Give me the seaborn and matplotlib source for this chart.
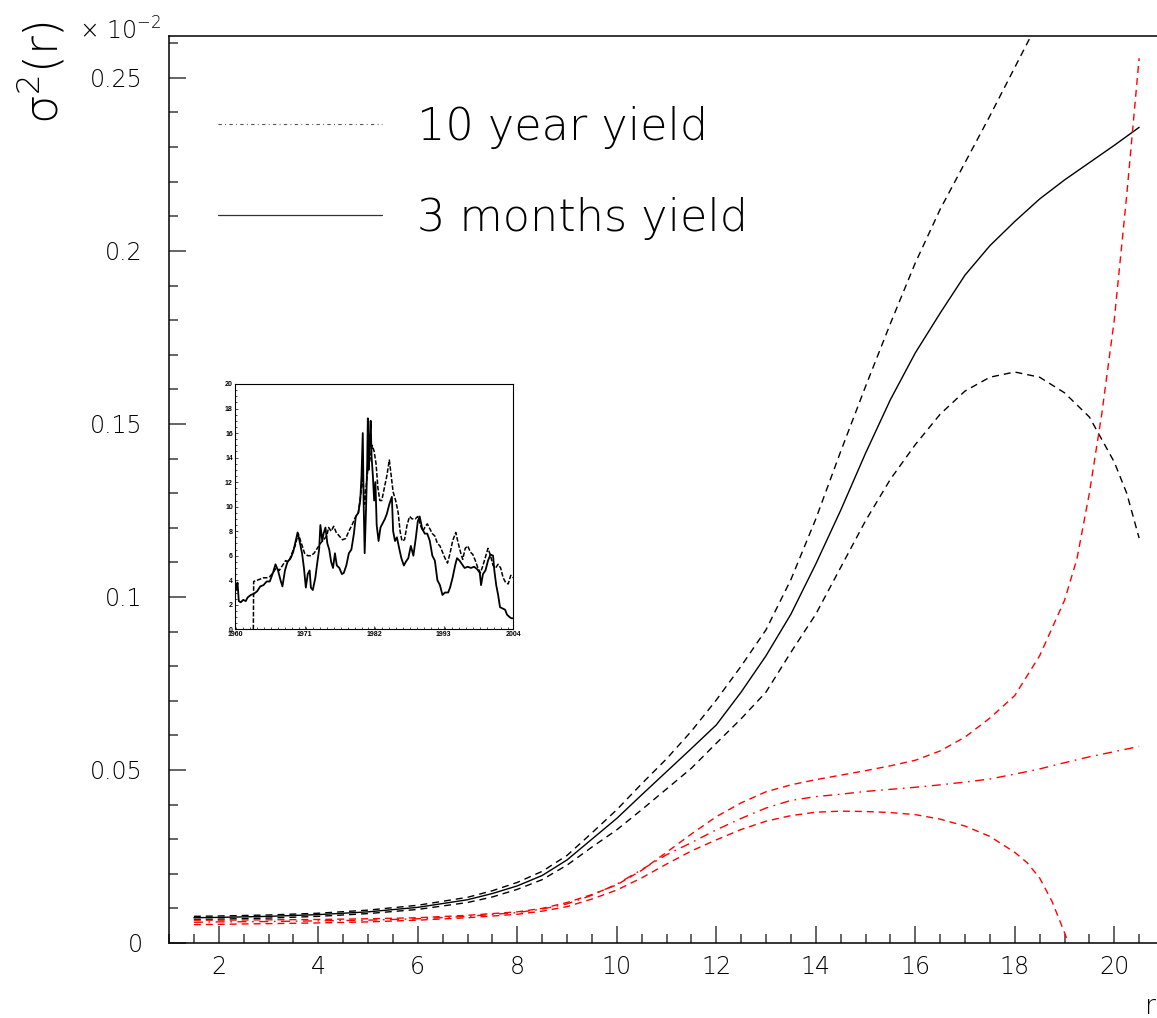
import numpy as np
import pandas as pd
import matplotlib
matplotlib.use("Agg")
import matplotlib.pyplot as plt
import seaborn as sns
from matplotlib.lines import Line2D
from matplotlib.ticker import MultipleLocator

# ---------------- main panel data (values in units of 1e-2) ----------------
r_solid = [1.5, 2, 3, 4, 5, 6, 7, 7.5, 8, 8.5, 9, 9.5, 10, 10.5, 11, 11.5, 12, 12.5, 13, 13.5,
           14, 14.5, 15, 15.5, 16, 16.5, 17, 17.5, 18, 18.5, 19, 19.5, 20, 20.5]
s_solid = [0.0073, 0.0074, 0.0077, 0.0082, 0.0090, 0.0103, 0.0125, 0.0143, 0.0165, 0.0195, 0.0240,
           0.0300, 0.0360, 0.0428, 0.0495, 0.0562, 0.0630, 0.0725, 0.0830, 0.0950, 0.1095, 0.1250,
           0.1415, 0.1570, 0.1705, 0.1820, 0.1930, 0.2015, 0.2085, 0.2150, 0.2205, 0.2255, 0.2305, 0.2357]

r_up = [1.5, 2, 3, 4, 5, 6, 7, 7.5, 8, 8.5, 9, 9.5, 10, 10.5, 11, 11.5, 12, 12.5, 13, 13.5,
        14, 14.5, 15, 15.5, 16, 16.5, 17, 17.5, 18, 18.5]
s_up = [0.0077, 0.0078, 0.0081, 0.0086, 0.0095, 0.0109, 0.0132, 0.0151, 0.0175, 0.0207, 0.0253,
        0.0318, 0.0385, 0.0460, 0.0532, 0.0612, 0.0702, 0.0800, 0.0905, 0.1050, 0.1225, 0.1420,
        0.1608, 0.1790, 0.1965, 0.2120, 0.2255, 0.2390, 0.2530, 0.2670]

r_lo = [1.5, 2, 3, 4, 5, 6, 7, 7.5, 8, 8.5, 9, 9.5, 10, 10.5, 11, 11.5, 12, 12.5, 13, 13.5,
        14, 14.5, 15, 15.5, 16, 16.5, 17, 17.5, 18, 18.5, 19, 19.5, 20, 20.25, 20.5]
s_lo = [0.0068, 0.0069, 0.0072, 0.0077, 0.0085, 0.0097, 0.0117, 0.0133, 0.0155, 0.0183, 0.0225,
        0.0277, 0.0327, 0.0385, 0.0445, 0.0505, 0.0577, 0.0648, 0.0725, 0.0840, 0.0950, 0.1085,
        0.1220, 0.1340, 0.1440, 0.1528, 0.1595, 0.1635, 0.1650, 0.1635, 0.1590, 0.1520, 0.1390,
        0.1300, 0.1170]

r_red_up = [1.5, 2, 3, 4, 5, 6, 7, 8, 8.5, 9, 9.5, 10, 10.5, 11, 11.5, 12, 12.5, 13, 13.5, 14,
            14.5, 15, 15.5, 16, 16.5, 17, 17.5, 18, 18.5, 19, 19.25, 19.5, 19.75, 20, 20.25, 20.5]
s_red_up = [0.0066, 0.0066, 0.0067, 0.0068, 0.0070, 0.0073, 0.0080, 0.0090, 0.0100, 0.0117, 0.0140,
            0.0168, 0.0210, 0.0262, 0.0315, 0.0365, 0.0405, 0.0437, 0.0457, 0.0472, 0.0485, 0.0498,
            0.0512, 0.0528, 0.0555, 0.0595, 0.0650, 0.0715, 0.0830, 0.0990, 0.1110, 0.1300, 0.1530,
            0.1800, 0.2160, 0.2557]

r_red_mid = [1.5, 2, 3, 4, 5, 6, 7, 8, 8.5, 9, 9.5, 10, 10.5, 11, 11.5, 12, 12.5, 13, 13.5, 14,
             14.5, 15, 15.5, 16, 16.5, 17, 17.5, 18, 18.5, 19, 19.5, 20, 20.5]
s_red_mid = [0.0060, 0.0061, 0.0062, 0.0064, 0.0066, 0.0070, 0.0077, 0.0088, 0.0098, 0.0113, 0.0138,
             0.0170, 0.0212, 0.0255, 0.0290, 0.0327, 0.0360, 0.0390, 0.0412, 0.0423, 0.0430, 0.0438,
             0.0444, 0.0450, 0.0457, 0.0465, 0.0474, 0.0488, 0.0503, 0.0521, 0.0538, 0.0553, 0.0568]

r_red_lo = [1.5, 2, 3, 4, 5, 6, 7, 8, 8.5, 9, 9.5, 10, 10.5, 11, 11.5, 12, 12.5, 13, 13.5, 14,
            14.5, 15, 15.5, 16, 16.5, 17, 17.5, 18, 18.25, 18.5, 18.75, 19, 19.08]
s_red_lo = [0.0053, 0.0054, 0.0056, 0.0058, 0.0061, 0.0066, 0.0073, 0.0083, 0.0092, 0.0105, 0.0127,
            0.0153, 0.0188, 0.0228, 0.0266, 0.0298, 0.0328, 0.0352, 0.0368, 0.0378, 0.0381, 0.0380,
            0.0377, 0.0371, 0.0358, 0.0338, 0.0308, 0.0262, 0.0232, 0.0188, 0.0120, 0.0030, 0.0]

x_major = [2, 4, 6, 8, 10, 12, 14, 16, 18, 20]
x_labels = ["2", "4", "6", "8", "10", "12", "14", "16", "18", "20"]
y_major = [0, 0.05, 0.10, 0.15, 0.20, 0.25]
y_labels = ["0", "0.05", "0.1", "0.15", "0.2", "0.25"]
legend_labels = ["10 year yield", "3 months yield"]

# ---------------- inset data: yields (%) vs year ----------------
yr_3m = [1960.0, 1960.2, 1960.4, 1960.6, 1960.9, 1961.3, 1961.7, 1962.0, 1962.5, 1963.0, 1963.5,
         1964.0, 1964.5, 1965.0, 1965.5, 1966.0, 1966.4, 1966.8, 1967.2, 1967.5, 1967.9, 1968.3,
         1968.8, 1969.2, 1969.6, 1969.9, 1970.2, 1970.6, 1970.9, 1971.2, 1971.5, 1971.8, 1972.0,
         1972.3, 1972.7, 1973.0, 1973.3, 1973.5, 1973.8, 1974.0, 1974.3, 1974.6, 1974.9, 1975.2,
         1975.5, 1975.8, 1976.1, 1976.5, 1976.9, 1977.2, 1977.6, 1978.0, 1978.4, 1978.8, 1979.1,
         1979.5, 1979.8, 1980.0, 1980.2, 1980.35, 1980.5, 1980.7, 1980.9, 1981.0, 1981.15, 1981.3,
         1981.45, 1981.6, 1981.8, 1982.0, 1982.2, 1982.4, 1982.7, 1983.0, 1983.3, 1983.7, 1984.0,
         1984.4, 1984.8, 1985.0, 1985.3, 1985.6, 1986.0, 1986.3, 1986.7, 1987.0, 1987.4, 1987.8,
         1988.2, 1988.6, 1988.9, 1989.2, 1989.6, 1990.0, 1990.4, 1990.8, 1991.2, 1991.6, 1992.0,
         1992.4, 1992.8, 1993.2, 1993.7, 1994.0, 1994.4, 1994.8, 1995.1, 1995.5, 1995.9, 1996.3,
         1996.8, 1997.3, 1997.8, 1998.3, 1998.7, 1998.9, 1999.2, 1999.6, 2000.0, 2000.4, 2000.8,
         2001.0, 2001.3, 2001.6, 2001.9, 2002.3, 2002.7, 2003.0, 2003.4, 2003.7, 2004.0]
val_3m = [4.0, 3.2, 3.8, 2.3, 2.2, 2.4, 2.3, 2.6, 2.8, 2.9, 3.1,
          3.5, 3.6, 3.9, 3.9, 4.6, 5.3, 4.8, 4.0, 3.5, 4.8, 5.5,
          5.8, 6.3, 7.2, 7.9, 7.2, 6.2, 5.0, 3.4, 4.5, 4.8, 3.4,
          3.2, 4.2, 5.4, 6.5, 8.5, 7.2, 7.8, 8.3, 7.0, 6.5, 5.5,
          5.0, 6.2, 5.2, 5.0, 4.5, 4.6, 5.2, 6.2, 6.5, 7.8, 9.2,
          9.5, 10.5, 12.5, 16.0, 10.0, 6.2, 9.5, 13.5, 17.2, 13.0, 15.5,
          17.0, 14.0, 12.5, 10.5, 12.0, 8.5, 7.2, 8.3, 8.6, 9.0, 9.4,
          10.2, 10.8, 8.0, 7.2, 7.5, 6.5, 5.8, 5.2, 5.5, 5.8, 6.8,
          6.0, 7.5, 8.8, 9.2, 8.2, 7.8, 7.8, 7.2, 6.0, 5.6, 4.0,
          3.6, 2.8, 3.0, 3.0, 3.4, 4.2, 5.2, 5.8, 5.6, 5.3, 5.0,
          5.1, 5.0, 5.1, 4.9, 4.6, 3.6, 4.5, 4.8, 5.6, 6.1, 6.0,
          4.8, 3.6, 2.8, 1.8, 1.7, 1.6, 1.2, 1.0, 0.9, 0.9]

yr_10y = [1962.9, 1962.95, 1963.5, 1964.0, 1964.5, 1965.0, 1965.5, 1966.0, 1966.5, 1967.0, 1967.5,
          1968.0, 1968.5, 1969.0, 1969.5, 1970.0, 1970.5, 1971.0, 1971.5, 1972.0, 1972.5, 1973.0,
          1973.5, 1974.0, 1974.5, 1974.8, 1975.2, 1975.6, 1976.0, 1976.5, 1977.0, 1977.5, 1978.0,
          1978.5, 1979.0, 1979.5, 1980.0, 1980.2, 1980.5, 1980.8, 1981.0, 1981.4, 1981.7, 1982.0,
          1982.3, 1982.6, 1982.9, 1983.2, 1983.6, 1984.0, 1984.4, 1984.7, 1985.0, 1985.4, 1985.8,
          1986.1, 1986.4, 1986.8, 1987.2, 1987.6, 1988.0, 1988.5, 1988.9, 1989.3, 1989.7, 1990.0,
          1990.4, 1990.8, 1991.2, 1991.6, 1992.0, 1992.4, 1992.8, 1993.2, 1993.6, 1994.0, 1994.4,
          1994.9, 1995.3, 1995.7, 1996.0, 1996.4, 1996.8, 1997.2, 1997.6, 1998.0, 1998.4, 1998.8,
          1999.2, 1999.6, 2000.0, 2000.4, 2000.8, 2001.2, 2001.6, 2002.0, 2002.4, 2002.8, 2003.2,
          2003.6, 2004.0]
val_10y = [0.0, 3.9, 4.0, 4.1, 4.2, 4.2, 4.3, 4.6, 5.0, 4.8, 5.2,
           5.6, 5.5, 6.2, 6.8, 7.8, 7.0, 6.2, 6.0, 6.0, 6.2, 6.6,
           7.0, 7.3, 7.6, 8.3, 8.0, 8.4, 7.9, 7.6, 7.3, 7.4, 8.0,
           8.5, 9.1, 9.5, 11.5, 12.5, 10.2, 12.0, 13.0, 14.0, 15.0, 14.5,
           13.5, 11.5, 10.5, 10.5, 11.5, 12.5, 13.8, 12.5, 11.2, 10.5, 9.5,
           8.0, 7.2, 7.3, 8.5, 9.2, 9.0, 9.0, 9.2, 8.5, 8.0, 8.3,
           8.6, 8.2, 7.8, 7.6, 7.0, 6.8, 6.3, 5.8, 5.4, 6.2, 7.2,
           7.9, 7.0, 6.2, 5.7, 6.6, 6.8, 6.3, 6.1, 5.6, 5.0, 4.6,
           5.2, 5.9, 6.6, 6.0, 5.2, 5.0, 5.3, 5.0, 4.2, 3.8, 3.7,
           4.4, 4.2]
inset_xticks = [1960, 1971, 1982, 1993, 2004]
inset_yticks = [0, 2, 4, 6, 8, 10, 12, 14, 16, 18, 20]

# ---------------- styling ----------------
sns.set_theme(style="ticks")
FONT = ["DejaVu Sans", "Noto Sans"]
plt.rcParams['font.family'] = FONT
plt.rcParams['font.weight'] = 200
plt.rcParams['mathtext.default'] = 'regular'
plt.rcParams['text.color'] = 'black'
plt.rcParams['xtick.direction'] = 'in'
plt.rcParams['ytick.direction'] = 'in'

W, H = 1157, 1018
fig = plt.figure(figsize=(W / 100, H / 100), dpi=100)
ax = fig.add_axes([169 / W, 75 / H, 995 / W, 907 / H])

DASH = (0, (5.0, 3.6))
DASHDOT = (0, (6.5, 4.0, 1.2, 4.0))

def curve(x, y, color, ls, lw=1.0):
    sns.lineplot(x=x, y=y, ax=ax, color=color, linestyle=ls, linewidth=lw,
                 sort=False, errorbar=None, estimator=None)

curve(r_up, s_up, "black", DASH)
curve(r_lo, s_lo, "black", DASH)
curve(r_solid, s_solid, "black", "-")
curve(r_red_up, s_red_up, "#ff0000", DASH)
curve(r_red_mid, s_red_mid, "#ff0000", DASHDOT)
curve(r_red_lo, s_red_lo, "#ff0000", DASH)

ax.set_xlim(1.0, 21.0)
ax.set_ylim(0.0, 0.2621)
ax.set_xticks(x_major, x_labels)
ax.set_yticks(y_major, y_labels)
ax.xaxis.set_minor_locator(MultipleLocator(0.5))
ax.yaxis.set_minor_locator(MultipleLocator(0.01))
ax.tick_params(axis="x", which="both", bottom=True, top=False, direction="in",
               color="#3a3a3a", width=1.1, labelsize=17, labelcolor="black", pad=9)
ax.tick_params(axis="y", which="both", left=True, right=False, direction="in",
               color="#3a3a3a", width=1.1, labelsize=17, labelcolor="black", pad=19)
ax.tick_params(which="major", length=12)
ax.tick_params(which="minor", length=6.5)
for lab in ax.get_xticklabels() + ax.get_yticklabels():
    lab.set_fontweight(200)
for s in ["left", "bottom", "top"]:
    ax.spines[s].set_color("black")
    ax.spines[s].set_linewidth(1.1)
    ax.spines[s].set_visible(True)
ax.spines["right"].set_visible(False)

# axis titles
ax.set_xlabel("r", fontsize=19, color="black", fontweight=200)
ax.xaxis.set_label_coords((1150 - 169) / 995, -(994 - 943) / 907)
ax.set_ylabel("")
fig.text(40 / W, 1 - 72 / H, "σ$^{2}$(r)", rotation=90, ha="center", va="center",
         fontsize=33, color="black", fontweight=200)
fig.text(79 / W, 1 - 40 / H, "× 10$^{-2}$", ha="left", va="baseline",
         fontsize=17, color="black", fontweight=200)

# legend
h10 = Line2D([], [], color="#555555", linewidth=0.8, linestyle=(0, (3.0, 3.0, 0.8, 3.0)))
h3m = Line2D([], [], color="#333333", linewidth=0.9, linestyle="-")
leg = ax.legend([h10, h3m], legend_labels, loc="upper left",
                bbox_to_anchor=((218 - 169) / 995, 1 - (106 - 36) / 907),
                frameon=False, fontsize=32, handlelength=3.7, handletextpad=0.78,
                labelspacing=1.07, borderpad=0, borderaxespad=0, labelcolor="black")
for t in leg.get_texts():
    t.set_fontweight(200)

# ---------------- inset ----------------
ins = fig.add_axes([235 / W, (H - 629.3) / H, 278.3 / W, 245.3 / H])
sns.lineplot(x=yr_10y, y=val_10y, ax=ins, color="black", linewidth=1.1,
             linestyle=(0, (3, 1.2)), sort=False, errorbar=None, estimator=None)
sns.lineplot(x=yr_3m, y=val_3m, ax=ins, color="black", linewidth=1.3,
             sort=False, errorbar=None, estimator=None)
ins.set_xlim(1960, 2004)
ins.set_ylim(0, 20)
ins.set_xticks(inset_xticks, [str(v) for v in inset_xticks])
ins.set_yticks(inset_yticks, [str(v) for v in inset_yticks])
ins.yaxis.set_minor_locator(MultipleLocator(0.5))
ins.xaxis.set_minor_locator(MultipleLocator(1.1))
ins.tick_params(which="both", direction="in", width=0.5, colors="black",
                labelsize=5, pad=1.5, bottom=True, left=True, top=False, right=False)
ins.tick_params(which="major", length=2.5)
ins.tick_params(which="minor", length=1.2)
for lab in ins.get_xticklabels() + ins.get_yticklabels():
    lab.set_fontfamily(["Liberation Sans", "DejaVu Sans"])
    lab.set_fontweight("bold")
for s in ins.spines.values():
    s.set_color("black")
    s.set_linewidth(0.8)
    s.set_visible(True)
ins.set_xlabel("")
ins.set_ylabel("")

fig.savefig("out.png", dpi=100)
